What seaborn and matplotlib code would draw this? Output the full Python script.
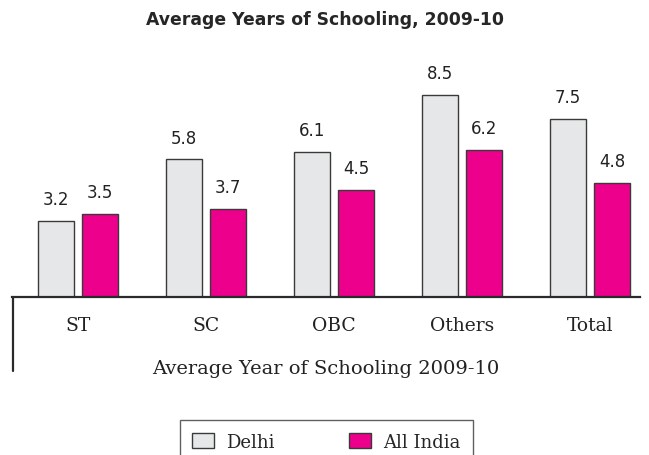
import pandas as pd
import seaborn as sns
import matplotlib.pyplot as plt
from matplotlib.lines import Line2D

# Data
groups = ['ST', 'SC', 'OBC', 'Others', 'Total']
delhi = [3.2, 5.8, 6.1, 8.5, 7.5]
all_india = [3.5, 3.7, 4.5, 6.2, 4.8]
series = ['Delhi', 'All India']

df = pd.DataFrame({
    'Group': groups * 2,
    'Years': delhi + all_india,
    'Region': [series[0]] * len(groups) + [series[1]] * len(groups),
})

sns.set_style('white')
plt.rcParams['font.family'] = ['DejaVu Serif']

fig = plt.figure(figsize=(6.49, 4.56), dpi=100)
ax = fig.add_axes([12 / 649, 158 / 456, 628 / 649, 226 / 456])

palette = {'Delhi': '#e6e7e8', 'All India': '#ec008c'}
sns.barplot(data=df, x='Group', y='Years', hue='Region', palette=palette,
            width=0.69, gap=0.2, edgecolor='#3a3a3a', linewidth=1.0,
            saturation=1, legend=False, ax=ax)

for cont in ax.containers:
    ax.bar_label(cont, fmt='%.1f', padding=9, fontsize=12,
                 family='DejaVu Sans', color='#222222')

ax.set_xlim(-0.516, 4.39)
ax.set_ylim(0, 9.5)
ax.set_yticks([])
ax.set_ylabel('')
ax.set_xlabel('Average Year of Schooling 2009-10', fontsize=14,
              color='#222222', labelpad=18)
ax.tick_params(axis='x', length=0, labelsize=13.5, pad=14, colors='#222222')
for s in ['top', 'right', 'left']:
    ax.spines[s].set_visible(False)
ax.spines['bottom'].set_color('#2a2a2a')
ax.spines['bottom'].set_linewidth(1.6)

# left vertical rule hanging below the baseline
fig.add_artist(Line2D([12.5 / 649, 12.5 / 649], [158 / 456, 84 / 456],
                      color='#2a2a2a', linewidth=1.6))

fig.text(0.5, 1 - 20 / 456, 'Average Years of Schooling, 2009-10',
         ha='center', va='center', fontsize=12.4, fontweight='heavy',
         family='DejaVu Sans')

handles = [plt.Rectangle((0, 0), 1, 1, facecolor=palette[s],
                         edgecolor='#3a3a3a', linewidth=1.0) for s in series]
leg = fig.legend(handles, series, loc='upper center',
                 bbox_to_anchor=(0.503, 1 - 421 / 456), ncol=2, fontsize=13,
                 frameon=True, fancybox=False, edgecolor='#3a3a3a',
                 columnspacing=4.1, handlelength=1.2, handleheight=0.9,
                 handletextpad=0.7, borderpad=0.7, borderaxespad=0)
leg.get_frame().set_linewidth(1.0)

fig.savefig('out.png', dpi=100)
